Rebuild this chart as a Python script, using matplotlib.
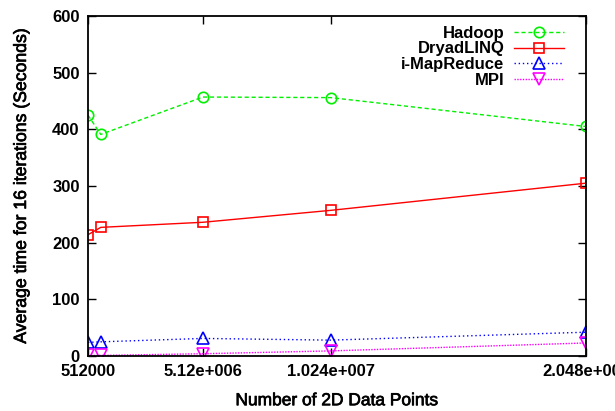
import matplotlib
matplotlib.use('Agg')
import matplotlib.pyplot as plt
import matplotlib.patheffects as pe

plt.rcParams['font.family'] = ['Liberation Sans', 'DejaVu Sans']

# data
points = [512000, 1024000, 5120000, 10240000, 20480000]
hadoop = [425, 391, 457, 456, 405]
dryad = [214, 227, 236, 257, 305]
imapreduce = [24, 25, 31, 28, 42]
mpi = [1, 1, 4, 9, 23]

xtick_vals = [512000, 5120000, 10240000, 20480000]
xtick_labels = ['512000', '5.12e+006', '1.024e+007', '2.048e+007']
ytick_vals = [0, 100, 200, 300, 400, 500, 600]

fig = plt.figure(figsize=(6.15, 4.11), dpi=100)
ax = fig.add_axes([88/615, 1-356/411, (586-88)/615, (356-16)/411])

ax.plot(points, hadoop, color='#00f000', linestyle=(0, (3, 2)), linewidth=1,
        marker='o', markersize=7.5, markerfacecolor='none', markeredgewidth=1.2, label='Hadoop')
ax.plot(points, dryad, color='#ff0000', linestyle='-', linewidth=1,
        marker='s', markersize=7.5, markerfacecolor='none', markeredgewidth=1.2, label='DryadLINQ')
ax.plot(points, imapreduce, color='#0000ff', linestyle=(0, (1, 2)), linewidth=1,
        marker='^', markersize=8, markerfacecolor='none', markeredgewidth=1.2, label='i-MapReduce')
ax.plot(points, mpi, color='#ff00ff', linestyle=(0, (1, 1)), linewidth=1,
        marker='v', markersize=8, markerfacecolor='none', markeredgewidth=1.2, label='MPI')

ax.set_xlim(512000, 20480000)
ax.set_ylim(0, 600)
ax.set_xticks(xtick_vals)
ax.set_xticklabels(xtick_labels, fontsize=12, fontweight='bold')
ax.set_yticks(ytick_vals)
ax.set_yticklabels([str(v) for v in ytick_vals], fontsize=12, fontweight='bold')
ax.tick_params(direction='in', length=6, width=1, top=True, right=True, pad=6)
for sp in ax.spines.values():
    sp.set_linewidth(1.3)

# axis titles look a bit heavier than regular weight in the reference
heavy = [pe.withStroke(linewidth=0.5, foreground='black')]
ax.set_xlabel('Number of 2D Data Points', fontsize=12.5, labelpad=10, path_effects=heavy)
ax.set_ylabel('Average time for 16 iterations (Seconds)', fontsize=12.7, labelpad=16,
              path_effects=heavy)

leg = ax.legend(loc='upper right', bbox_to_anchor=(1 - 10/498, 1 + 2/340), markerfirst=False,
                frameon=False, fontsize=12, handlelength=3, handletextpad=0.6,
                labelspacing=0.05, borderaxespad=0.3)
for t in leg.get_texts():
    t.set_fontweight('bold')
    t.set_ha('right')

fig.savefig('out.png', dpi=100)
